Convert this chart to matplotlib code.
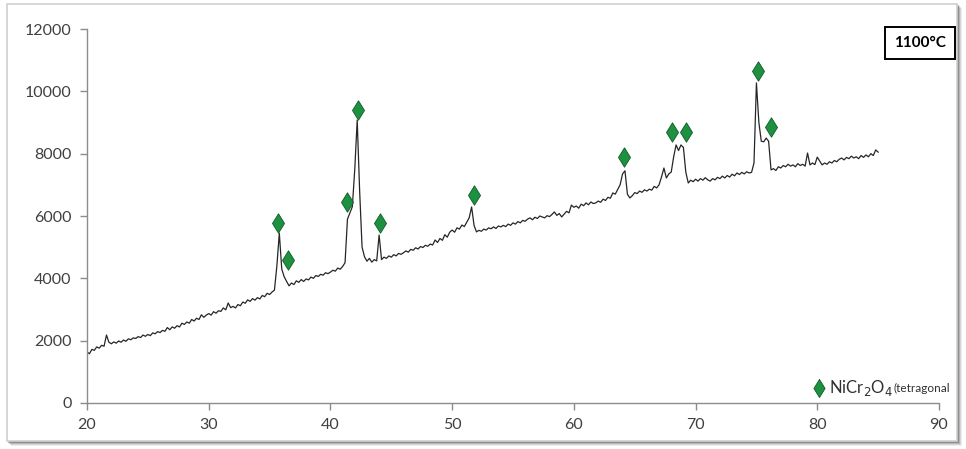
import numpy as np
import matplotlib.pyplot as plt
from matplotlib.patches import Rectangle

# XRD pattern, 2-theta from 20 to 85 in 0.2 deg steps
two_theta = np.round(np.arange(20.0, 85.01, 0.2), 1)
intensity = [
    1640, 1580, 1720, 1690, 1800, 1760, 1850, 1820, 2180, 1950,
    1900, 1960, 1920, 1990, 1950, 2020, 1980, 2060, 2030, 2090,
    2070, 2130, 2100, 2180, 2140, 2200, 2160, 2250, 2220, 2290,
    2260, 2330, 2300, 2420, 2350, 2440, 2400, 2480, 2440, 2560,
    2520, 2600, 2560, 2680, 2630, 2720, 2680, 2830, 2750, 2820,
    2870, 2820, 2930, 2880, 2960, 2940, 3050, 2990, 3210, 3060,
    3100, 3050, 3160, 3120, 3240, 3200, 3310, 3260, 3350, 3300,
    3380, 3340, 3450, 3410, 3520, 3480, 3560, 3620, 4400, 5450,
    4300, 4050, 3900, 3760, 3850, 3800, 3920, 3870, 3960, 3900,
    3980, 3950, 4040, 4000, 4090, 4060, 4130, 4100, 4180, 4150,
    4200, 4260, 4230, 4330, 4290, 4380, 4500, 5900, 6100, 6300,
    7500, 9080, 6800, 5000, 4690, 4550, 4640, 4520, 4600, 4560,
    5390, 4600, 4680, 4640, 4720, 4680, 4760, 4720, 4800, 4770,
    4820, 4880, 4840, 4930, 4900, 4980, 4940, 5020, 4990, 5060,
    5030, 5100, 5070, 5230, 5150, 5280, 5220, 5400, 5320, 5480,
    5550, 5480, 5620, 5580, 5710, 5660, 5800, 5940, 6290, 5700,
    5490, 5540, 5510, 5580, 5550, 5620, 5590, 5650, 5600, 5680,
    5650, 5700, 5660, 5740, 5700, 5780, 5740, 5820, 5780, 5860,
    5830, 5900, 5940, 5880, 5960, 5920, 6000, 5970, 5940, 6010,
    5980, 6050, 6130, 6020, 6080, 5970, 6060, 6150, 6100, 6350,
    6280, 6320, 6250, 6380, 6330, 6420, 6360, 6450, 6400, 6420,
    6480, 6440, 6540, 6500, 6600, 6570, 6740, 6700, 6850, 7000,
    7350, 7450, 6700, 6580, 6650, 6750, 6720, 6800, 6760, 6840,
    6800, 6860, 6830, 6950, 6900, 7000, 7250, 7540, 7220, 7350,
    7410, 7900, 8280, 8100, 8280, 8200, 7400, 7060, 7150, 7100,
    7180, 7120, 7200, 7150, 7230, 7160, 7120, 7200, 7160, 7240,
    7200, 7280, 7220, 7300, 7250, 7340, 7290, 7380, 7330, 7400,
    7350, 7420, 7380, 7400, 7700, 10270, 9000, 8400, 8380, 8500,
    8400, 7480, 7520, 7460, 7580, 7540, 7620, 7580, 7660, 7600,
    7640, 7580, 7680, 7620, 7660, 7600, 8020, 7640, 7700, 7650,
    7890, 7760, 7640, 7700, 7660, 7740, 7700, 7780, 7740, 7820,
    7860, 7800, 7880, 7840, 7920, 7860, 7900, 7840, 7940, 7880,
    7960, 7900, 8000, 7940, 8120, 8050,
]

# NiCr2O4 peak markers
peak_x = [35.7, 36.5, 41.4, 42.3, 44.1, 51.8, 64.1, 68.1, 69.2, 75.1, 76.2]
peak_y = [5775, 4590, 6450, 9400, 5780, 6670, 7890, 8700, 8700, 10650, 8860]

green = '#1e9140'
green_edge = '#0d5c25'
axis_grey = '#8c8c8c'
text_grey = '#404040'

# slim diamond, about 0.6 as wide as tall
diamond = [(0, 1), (0.62, 0), (0, -1), (-0.62, 0), (0, 1)]

fig = plt.figure(figsize=(9.66, 4.49), dpi=100)

# framed card with a soft shadow, like the source picture
W, H = 966, 449
for i, a in enumerate([0.10, 0.15, 0.25, 0.4]):
    off = 4 - i
    fig.patches.append(Rectangle(((7 + off) / W, (7 - off) / H), 951 / W, 438 / H,
                                 transform=fig.transFigure, facecolor='#555555',
                                 edgecolor='none', alpha=a, zorder=0))
fig.patches.append(Rectangle((7 / W, 8 / H), 950 / W, 437 / H, transform=fig.transFigure,
                             facecolor='white', edgecolor='#cfcfcf', lw=1.2, zorder=1))

ax = fig.add_axes([87 / W, 1 - 403 / H, (939 - 87) / W, (403 - 29) / H])
ax.set_facecolor('none')
ax.set_zorder(2)

ax.plot(two_theta, intensity, color='#262626', lw=0.9)
ax.plot(peak_x, peak_y, linestyle='none', marker=diamond, markersize=14,
        markerfacecolor=green, markeredgecolor=green_edge, markeredgewidth=0.6)

ax.set_xlim(20, 90)
ax.set_ylim(0, 12000)
ax.set_xticks(range(20, 91, 10))
ax.set_yticks(range(0, 12001, 2000))

for s in ['top', 'right']:
    ax.spines[s].set_visible(False)
for s in ['left', 'bottom']:
    ax.spines[s].set_color(axis_grey)
    ax.spines[s].set_linewidth(1.0)
ax.tick_params(direction='out', length=5, width=1.0, color=axis_grey,
               labelcolor=text_grey, labelsize=11.5, pad=6)
for lbl in ax.get_xticklabels() + ax.get_yticklabels():
    lbl.set_fontfamily('Lato')

# temperature tag
ax.text(0.978, 0.963, '1100°C', transform=ax.transAxes, ha='center', va='center',
        fontsize=11, fontweight='bold', family='Lato', color='black',
        bbox=dict(boxstyle='square,pad=0.6', facecolor='white', edgecolor='black', lw=1.4))

# legend drawn by hand so the phase note can be smaller
ax.plot([0.859], [0.04], transform=ax.transAxes, marker=diamond, markersize=13,
        markerfacecolor=green, markeredgecolor=green_edge, markeredgewidth=0.6,
        clip_on=False)
t1 = ax.text(0.871, 0.04, 'NiCr$_2$O$_4$', transform=ax.transAxes, ha='left', va='center',
             fontsize=12, family='Lato', color='#303030')
ax.annotate('(tetragonal', xy=(1.0, 0.22), xycoords=t1, ha='left', va='bottom',
            fontsize=8.5, family='Lato', color='#303030')

fig.savefig('out.png', dpi=100)
